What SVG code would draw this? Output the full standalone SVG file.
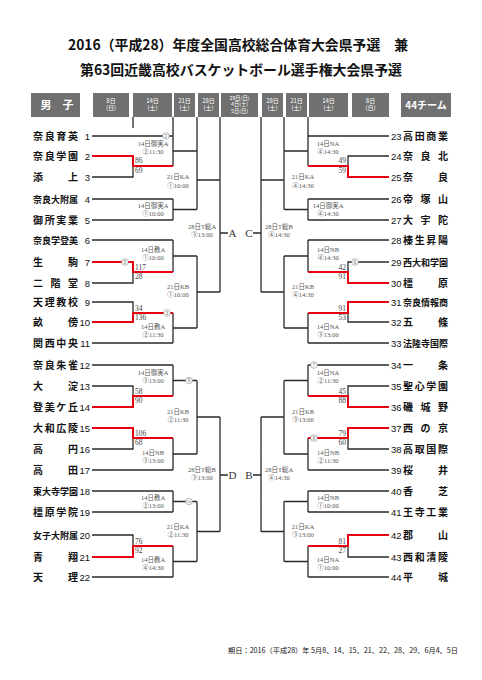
<svg xmlns="http://www.w3.org/2000/svg" width="482" height="680" viewBox="0 0 482 680">
<style>
.ln{fill:none;stroke:#2a2a2a;stroke-width:1.3}
.rd{fill:none;stroke:#e60012;stroke-width:2}
.nm{font-family:"Noto Sans CJK JP",sans-serif;font-size:10px;font-weight:bold;fill:#111}
.n5{font-size:9px}
.no{font-family:"Liberation Sans","Noto Sans CJK JP",sans-serif;font-size:9.5px;fill:#111}
.lb{font-family:"Liberation Serif","Noto Sans CJK JP",serif;font-size:6.5px;fill:#555;text-anchor:middle}
.sc{font-family:"Liberation Serif",serif;font-size:7.5px;fill:#444}
.hb{fill:#707070}
.ht{font-family:"Noto Sans CJK JP",sans-serif;font-size:6px;fill:#fff;text-anchor:middle}
.hs{font-size:5.3px}
.ti{font-family:"Noto Sans CJK JP",sans-serif;font-size:14px;font-weight:bold;fill:#111}
.bl{font-family:"Liberation Serif",serif;font-size:11px;fill:#333;text-anchor:middle}
.cw{fill:#fff;stroke:#8a8a8a;stroke-width:0.6}
.ct{font-family:"Liberation Sans",sans-serif;font-size:5px;fill:#777;text-anchor:middle}
</style>
<rect width="482" height="680" fill="#fff"/>
<g id="title">
<text class="ti" x="68" y="50" textLength="340" lengthAdjust="spacingAndGlyphs">2016（平成28）年度全国高校総合体育大会県予選　兼</text>
<text class="ti" x="80" y="75" textLength="322" lengthAdjust="spacingAndGlyphs">第63回近畿高校バスケットボール選手権大会県予選</text>
</g>
<g id="header">
<rect class="hb" x="31" y="93" width="49" height="24"/>
<text x="57" y="109" text-anchor="middle" style="font-family:'Noto Sans CJK JP',sans-serif;font-size:11px;font-weight:bold;fill:#fff">男　子</text>
<rect class="hb" x="93" y="93" width="36" height="24"/>
<text class="ht" x="111" y="102.5">8日</text><text class="ht" x="111" y="110">(日)</text>
<rect class="hb" x="133" y="93" width="39" height="24"/>
<text class="ht" x="152.5" y="102.5">14日</text><text class="ht" x="152.5" y="110">(土)</text>
<rect class="hb" x="174" y="93" width="21" height="24"/>
<text class="ht" x="184.5" y="102.5">21日</text><text class="ht" x="184.5" y="110">(土)</text>
<rect class="hb" x="198" y="93" width="21" height="24"/>
<text class="ht" x="208.5" y="102.5">28日</text><text class="ht" x="208.5" y="110">(土)</text>
<rect class="hb" x="221" y="93" width="37" height="24"/>
<text class="ht hs" x="239.5" y="99.5">29日(日)</text><text class="ht hs" x="239.5" y="106">4日(土)</text><text class="ht hs" x="239.5" y="112.5">5日(日)</text>
<rect class="hb" x="262" y="93" width="21" height="24"/>
<text class="ht" x="272.5" y="102.5">28日</text><text class="ht" x="272.5" y="110">(土)</text>
<rect class="hb" x="286" y="93" width="21" height="24"/>
<text class="ht" x="296.5" y="102.5">21日</text><text class="ht" x="296.5" y="110">(土)</text>
<rect class="hb" x="309" y="93" width="39" height="24"/>
<text class="ht" x="328.5" y="102.5">14日</text><text class="ht" x="328.5" y="110">(土)</text>
<rect class="hb" x="352" y="93" width="37" height="24"/>
<text class="ht" x="370.5" y="102.5">8日</text><text class="ht" x="370.5" y="110">(日)</text>
<rect class="hb" x="401" y="93" width="50" height="24"/>
<text x="426" y="109" text-anchor="middle" style="font-family:'Noto Sans CJK JP',sans-serif;font-size:10px;font-weight:bold;fill:#fff">44チーム</text>
</g>
<g id="connectors">
<path class="ln" d="M133 117V128M173 117V136M197 117V151M220 117V180M308 117V136M284 117V151M261 117V180"/>
<path class="ln" d="M92 136H173M92 177H133V166M92 199H173M92 220H173M92 240H173M92 283H133V272M92 302H133V313M92 343H173M92 365H173M92 386H133V396M92 449H133V438M92 470H173M92 491H173M92 512H173M92 535H133V546M92 577H173"/>
<path class="ln" d="M173 136V166M173 199V220M173 240V272M173 313V343M173 365V396M173 438V470M173 491V512M173 546V577M173 151H197M173 209.5H197M173 256H197M173 328H197M173 380.5H197M173 454H197M173 501.5H197M173 561.5H197M197 151V209.5M197 256V328M197 380.5V454M197 501.5V561.5M197 180H220M197 292H220M197 417H220M197 531.5H220M220 180V292M220 417V531.5M220 233H228M220 475H228"/>
<path class="ln" d="M389 136H308M389 156H348V166M389 199H308M389 220H308M389 240H308M389 262H348V272M389 322H348V313M389 343H308M389 365H308M389 386H348V396M389 449H348V438M389 470H308M389 491H308M389 512H308M389 557H348V546M389 577H308"/>
<path class="ln" d="M308 136V166M308 199V220M308 240V272M308 313V343M308 365V396M308 438V470M308 491V512M308 546V577M308 151H284M308 209.5H284M308 256H284M308 328H284M308 380.5H284M308 454H284M308 501.5H284M308 561.5H284M284 151V209.5M284 256V328M284 380.5V454M284 501.5V561.5M284 180H261M284 292H261M284 417H261M284 531.5H261M261 180V292M261 417V531.5M261 233H253M261 475H253"/>
<path class="rd" d="M92 156H133V166H173M92 262H133V272H173M92 322H133V313H173M92 407H133V396H173M92 428H133V438H173M92 557H133V546H173"/>
<path class="rd" d="M389 177H348V166H308M389 283H348V272H308M389 302H348V313H308M389 407H348V396H308M389 428H348V438H308M389 535H348V546H308"/>
<g id="marks">
<circle class="cw" cx="166" cy="136" r="3.3"/><text class="ct" x="166" y="137.8">2</text>
<circle class="cw" cx="125" cy="262" r="3.3"/><text class="ct" x="125" y="263.8">5</text>
<circle class="cw" cx="167" cy="313" r="3.3"/><text class="ct" x="167" y="314.8">3</text>
<circle class="cw" cx="189" cy="380.5" r="3.3"/><text class="ct" x="189" y="382.3">9</text>
<circle class="cw" cx="189" cy="501.5" r="3.3"/><text class="ct" x="189" y="503.3" style="font-size:4.2px">10</text>
<circle class="cw" cx="355" cy="262" r="3.3"/><text class="ct" x="355" y="263.8">6</text>
<circle class="cw" cx="314" cy="365" r="3.3"/><text class="ct" x="314" y="366.8">7</text>
<circle class="cw" cx="314" cy="438" r="3.3"/><text class="ct" x="314" y="439.8">8</text>
</g>
</g>
<g id="scores">
<text class="sc" x="135" y="163">86</text><text class="sc" x="135" y="173">69</text>
<text class="sc" x="135" y="270">117</text><text class="sc" x="135" y="279">28</text>
<text class="sc" x="135" y="311">34</text><text class="sc" x="135" y="320">136</text>
<text class="sc" x="135" y="394">58</text><text class="sc" x="135" y="403">90</text>
<text class="sc" x="135" y="436">106</text><text class="sc" x="135" y="445">68</text>
<text class="sc" x="135" y="544">76</text><text class="sc" x="135" y="553">92</text>
<g text-anchor="end">
<text class="sc" x="346" y="163">49</text><text class="sc" x="346" y="173">59</text>
<text class="sc" x="346" y="270">42</text><text class="sc" x="346" y="279">91</text>
<text class="sc" x="346" y="311">91</text><text class="sc" x="346" y="320">53</text>
<text class="sc" x="346" y="394">45</text><text class="sc" x="346" y="403">88</text>
<text class="sc" x="346" y="436">79</text><text class="sc" x="346" y="445">60</text>
<text class="sc" x="346" y="544">81</text><text class="sc" x="346" y="553">27</text>
</g>
</g>
<g id="matches">
<g id="m14L"><text class="lb" x="153" y="146">14日御実A</text><text class="lb" x="153" y="154">②11:30</text>
<text class="lb" x="153" y="208">14日御実A</text><text class="lb" x="153" y="216">①10:00</text>
<text class="lb" x="153" y="252">14日教A</text><text class="lb" x="153" y="260">①10:00</text>
<text class="lb" x="153" y="329">14日教A</text><text class="lb" x="153" y="337">②11:30</text>
<text class="lb" x="153" y="375">14日御実A</text><text class="lb" x="153" y="383">③13:00</text>
<text class="lb" x="153" y="455">14日NB</text><text class="lb" x="153" y="463">③13:00</text>
<text class="lb" x="153" y="500">14日教A</text><text class="lb" x="153" y="508">②13:00</text>
<text class="lb" x="153" y="562">14日教A</text><text class="lb" x="153" y="570">④14:30</text></g>
<g id="m14R"><text class="lb" x="328" y="146">14日NA</text><text class="lb" x="328" y="154">④14:30</text>
<text class="lb" x="328" y="208">14日御実A</text><text class="lb" x="328" y="216">④14:30</text>
<text class="lb" x="328" y="252">14日NB</text><text class="lb" x="328" y="260">④14:30</text>
<text class="lb" x="328" y="329">14日NA</text><text class="lb" x="328" y="337">③13:00</text>
<text class="lb" x="328" y="375">14日NA</text><text class="lb" x="328" y="383">②11:30</text>
<text class="lb" x="328" y="455">14日NB</text><text class="lb" x="328" y="463">②11:30</text>
<text class="lb" x="328" y="500">14日NB</text><text class="lb" x="328" y="508">①10:00</text>
<text class="lb" x="328" y="562">14日NA</text><text class="lb" x="328" y="570">①10:00</text></g>
<g id="m21"><text class="lb" x="178" y="179">21日KA</text><text class="lb" x="178" y="188">①10:00</text>
<text class="lb" x="178" y="289">21日KB</text><text class="lb" x="178" y="297">①10:00</text>
<text class="lb" x="178" y="414">21日KB</text><text class="lb" x="178" y="422">②11:30</text>
<text class="lb" x="178" y="529">21日KA</text><text class="lb" x="178" y="537">②11:30</text>
<text class="lb" x="303" y="179">21日KA</text><text class="lb" x="303" y="188">④14:30</text>
<text class="lb" x="303" y="289">21日KB</text><text class="lb" x="303" y="297">④14:30</text>
<text class="lb" x="303" y="414">21日KB</text><text class="lb" x="303" y="422">③13:00</text>
<text class="lb" x="303" y="529">21日KA</text><text class="lb" x="303" y="537">③13:00</text></g>
<g id="m28"><text class="lb" x="202" y="229">28日T総A</text><text class="lb" x="202" y="237">③13:00</text>
<text class="lb" x="202" y="472">28日T総B</text><text class="lb" x="202" y="480">③13:00</text>
<text class="lb" x="279" y="229">28日T総B</text><text class="lb" x="279" y="237">④14:30</text>
<text class="lb" x="279" y="472">28日T総A</text><text class="lb" x="279" y="480">④14:30</text></g>
<g id="blocks"><text class="bl" x="232.5" y="237">A</text><text class="bl" x="249" y="237">C</text>
<text class="bl" x="232.5" y="479">D</text><text class="bl" x="249" y="479">B</text></g>
</g>
<g id="teamsL">
<g id="t1"><text class="nm" x="33" y="139.8" textLength="45" lengthAdjust="spacing">奈良育英</text><text class="no" x="90" y="139.5" text-anchor="end">1</text></g>
<g id="t2"><text class="nm" x="33" y="159.8" textLength="45" lengthAdjust="spacing">奈良学園</text><text class="no" x="90" y="159.5" text-anchor="end">2</text></g>
<g id="t3"><text class="nm" x="33" y="180.8" textLength="45" lengthAdjust="spacing">添上</text><text class="no" x="90" y="180.5" text-anchor="end">3</text></g>
<g id="t4"><text class="nm n5" x="33" y="202.5" textLength="45" lengthAdjust="spacingAndGlyphs">奈良大附属</text><text class="no" x="90" y="202.5" text-anchor="end">4</text></g>
<g id="t5"><text class="nm" x="33" y="223.8" textLength="45" lengthAdjust="spacing">御所実業</text><text class="no" x="90" y="223.5" text-anchor="end">5</text></g>
<g id="t6"><text class="nm n5" x="33" y="243.5" textLength="45" lengthAdjust="spacingAndGlyphs">奈良学登美</text><text class="no" x="90" y="243.5" text-anchor="end">6</text></g>
<g id="t7"><text class="nm" x="33" y="265.8" textLength="45" lengthAdjust="spacing">生駒</text><text class="no" x="90" y="265.5" text-anchor="end">7</text></g>
<g id="t8"><text class="nm" x="33" y="286.8" textLength="45" lengthAdjust="spacing">二階堂</text><text class="no" x="90" y="286.5" text-anchor="end">8</text></g>
<g id="t9"><text class="nm" x="33" y="305.8" textLength="45" lengthAdjust="spacing">天理教校</text><text class="no" x="90" y="305.5" text-anchor="end">9</text></g>
<g id="t10"><text class="nm" x="33" y="325.8" textLength="45" lengthAdjust="spacing">畝傍</text><text class="no" x="90" y="325.5" text-anchor="end">10</text></g>
<g id="t11"><text class="nm" x="33" y="346.8" textLength="45" lengthAdjust="spacing">関西中央</text><text class="no" x="90" y="346.5" text-anchor="end">11</text></g>
<g id="t12"><text class="nm" x="33" y="368.8" textLength="45" lengthAdjust="spacing">奈良朱雀</text><text class="no" x="90" y="368.5" text-anchor="end">12</text></g>
<g id="t13"><text class="nm" x="33" y="389.8" textLength="45" lengthAdjust="spacing">大淀</text><text class="no" x="90" y="389.5" text-anchor="end">13</text></g>
<g id="t14"><text class="nm" x="33" y="410.8" textLength="45" lengthAdjust="spacing">登美ケ丘</text><text class="no" x="90" y="410.5" text-anchor="end">14</text></g>
<g id="t15"><text class="nm" x="33" y="431.8" textLength="45" lengthAdjust="spacing">大和広陵</text><text class="no" x="90" y="431.5" text-anchor="end">15</text></g>
<g id="t16"><text class="nm" x="33" y="452.8" textLength="45" lengthAdjust="spacing">高円</text><text class="no" x="90" y="452.5" text-anchor="end">16</text></g>
<g id="t17"><text class="nm" x="33" y="473.8" textLength="45" lengthAdjust="spacing">高田</text><text class="no" x="90" y="473.5" text-anchor="end">17</text></g>
<g id="t18"><text class="nm n5" x="33" y="494.5" textLength="45" lengthAdjust="spacingAndGlyphs">東大寺学園</text><text class="no" x="90" y="494.5" text-anchor="end">18</text></g>
<g id="t19"><text class="nm" x="33" y="515.8" textLength="45" lengthAdjust="spacing">橿原学院</text><text class="no" x="90" y="515.5" text-anchor="end">19</text></g>
<g id="t20"><text class="nm n5" x="33" y="538.5" textLength="45" lengthAdjust="spacingAndGlyphs">女子大附属</text><text class="no" x="90" y="538.5" text-anchor="end">20</text></g>
<g id="t21"><text class="nm" x="33" y="560.8" textLength="45" lengthAdjust="spacing">青翔</text><text class="no" x="90" y="560.5" text-anchor="end">21</text></g>
<g id="t22"><text class="nm" x="33" y="580.8" textLength="45" lengthAdjust="spacing">天理</text><text class="no" x="90" y="580.5" text-anchor="end">22</text></g>
</g>
<g id="teamsR">
<g id="t23"><text class="no" x="391" y="139.5">23</text><text class="nm" x="403" y="139.8" textLength="45" lengthAdjust="spacing">高田商業</text></g>
<g id="t24"><text class="no" x="391" y="159.5">24</text><text class="nm" x="403" y="159.8" textLength="45" lengthAdjust="spacing">奈良北</text></g>
<g id="t25"><text class="no" x="391" y="180.5">25</text><text class="nm" x="403" y="180.8" textLength="45" lengthAdjust="spacing">奈良</text></g>
<g id="t26"><text class="no" x="391" y="202.5">26</text><text class="nm" x="403" y="202.8" textLength="45" lengthAdjust="spacing">帝塚山</text></g>
<g id="t27"><text class="no" x="391" y="223.5">27</text><text class="nm" x="403" y="223.8" textLength="45" lengthAdjust="spacing">大宇陀</text></g>
<g id="t28"><text class="no" x="391" y="243.5">28</text><text class="nm" x="403" y="243.8" textLength="45" lengthAdjust="spacing">榛生昇陽</text></g>
<g id="t29"><text class="no" x="391" y="265.5">29</text><text class="nm n5" x="403" y="265.5" textLength="45" lengthAdjust="spacingAndGlyphs">西大和学園</text></g>
<g id="t30"><text class="no" x="391" y="286.5">30</text><text class="nm" x="403" y="286.8" textLength="45" lengthAdjust="spacing">橿原</text></g>
<g id="t31"><text class="no" x="391" y="305.5">31</text><text class="nm n5" x="403" y="305.5" textLength="45" lengthAdjust="spacingAndGlyphs">奈良情報商</text></g>
<g id="t32"><text class="no" x="391" y="325.5">32</text><text class="nm" x="403" y="325.8" textLength="45" lengthAdjust="spacing">五條</text></g>
<g id="t33"><text class="no" x="391" y="346.5">33</text><text class="nm n5" x="403" y="346.5" textLength="45" lengthAdjust="spacingAndGlyphs">法隆寺国際</text></g>
<g id="t34"><text class="no" x="391" y="368.5">34</text><text class="nm" x="403" y="368.8" textLength="45" lengthAdjust="spacing">一条</text></g>
<g id="t35"><text class="no" x="391" y="389.5">35</text><text class="nm" x="403" y="389.8" textLength="45" lengthAdjust="spacing">聖心学園</text></g>
<g id="t36"><text class="no" x="391" y="410.5">36</text><text class="nm" x="403" y="410.8" textLength="45" lengthAdjust="spacing">磯城野</text></g>
<g id="t37"><text class="no" x="391" y="431.5">37</text><text class="nm" x="403" y="431.8" textLength="45" lengthAdjust="spacing">西の京</text></g>
<g id="t38"><text class="no" x="391" y="452.5">38</text><text class="nm" x="403" y="452.8" textLength="45" lengthAdjust="spacing">高取国際</text></g>
<g id="t39"><text class="no" x="391" y="473.5">39</text><text class="nm" x="403" y="473.8" textLength="45" lengthAdjust="spacing">桜井</text></g>
<g id="t40"><text class="no" x="391" y="494.5">40</text><text class="nm" x="403" y="494.8" textLength="45" lengthAdjust="spacing">香芝</text></g>
<g id="t41"><text class="no" x="391" y="515.5">41</text><text class="nm" x="403" y="515.8" textLength="45" lengthAdjust="spacing">王寺工業</text></g>
<g id="t42"><text class="no" x="391" y="538.5">42</text><text class="nm" x="403" y="538.8" textLength="45" lengthAdjust="spacing">郡山</text></g>
<g id="t43"><text class="no" x="391" y="560.5">43</text><text class="nm" x="403" y="560.8" textLength="45" lengthAdjust="spacing">西和清陵</text></g>
<g id="t44"><text class="no" x="391" y="580.5">44</text><text class="nm" x="403" y="580.8" textLength="45" lengthAdjust="spacing">平城</text></g>
</g>
<g id="footer">
<text x="458" y="653" text-anchor="end" style="font-family:'Noto Sans CJK JP',sans-serif;font-size:7.2px;fill:#111">期日：2016（平成28）年 5月8、14、15、21、22、28、29、6月4、5日</text>
</g>
</svg>
